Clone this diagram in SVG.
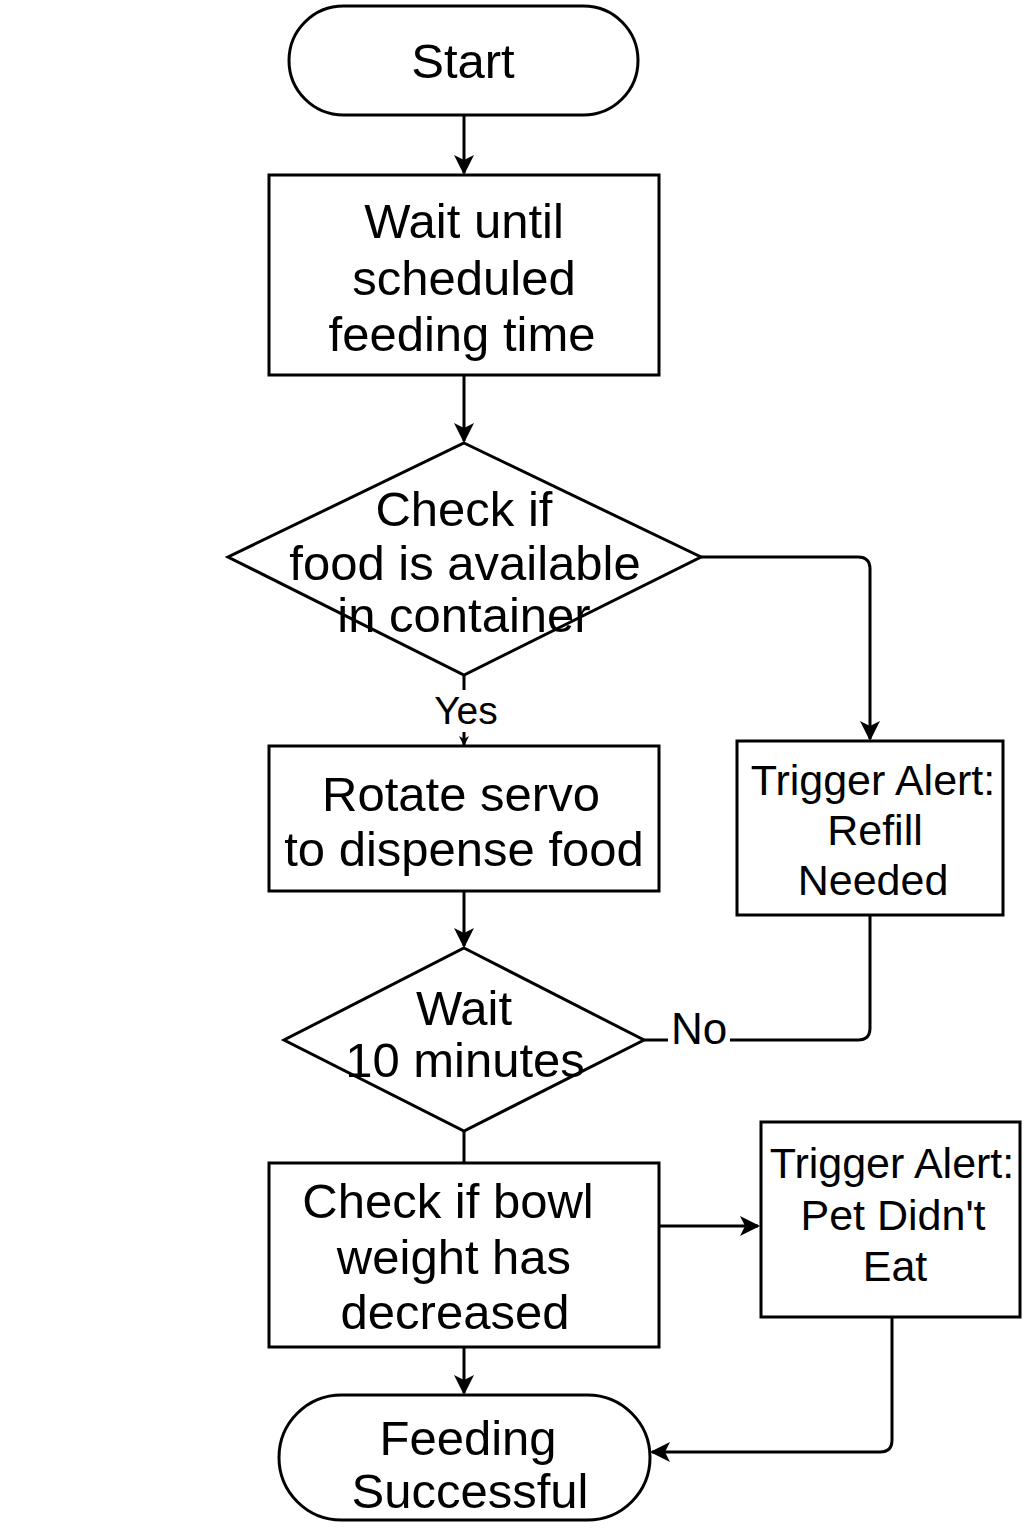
<svg xmlns="http://www.w3.org/2000/svg" width="1024" height="1536" viewBox="0 0 1024 1536">
<defs>
<style>
.s{fill:#fff;stroke:#000;stroke-width:3}
.t{font-family:"Liberation Sans",Arial,sans-serif;font-size:49px;fill:#000;text-anchor:middle}
.a{font-family:"Liberation Sans",Arial,sans-serif;font-size:43px;fill:#000;text-anchor:middle}
.c{fill:none;stroke:#000;stroke-width:3}
</style>
<marker id="ah" markerWidth="10" markerHeight="10" refX="9" refY="5" orient="auto" markerUnits="userSpaceOnUse" viewBox="0 0 10 10">
<path d="M0,0 L10,5 L0,10 L3,5 Z" fill="#000"/>
</marker>
<marker id="ah2" markerWidth="20" markerHeight="20" refX="18" refY="10" orient="auto" markerUnits="userSpaceOnUse" viewBox="0 0 20 20">
<path d="M0,0 L20,10 L0,20 L5,10 Z" fill="#000"/>
</marker>
</defs>
<rect width="1024" height="1536" fill="#fff"/>
<g id="connectors">
<line class="c" x1="464" y1="115" x2="464" y2="173" marker-end="url(#ah2)"/>
<line class="c" x1="464" y1="375" x2="464" y2="441" marker-end="url(#ah2)"/>
<line class="c" x1="464" y1="675" x2="464" y2="690"/>
<line class="c" x1="464" y1="732" x2="464" y2="745" marker-end="url(#ah)"/>
<line class="c" x1="464" y1="891" x2="464" y2="946" marker-end="url(#ah2)"/>
<line class="c" x1="464" y1="1131" x2="464" y2="1163"/>
<line class="c" x1="464" y1="1347" x2="464" y2="1393" marker-end="url(#ah2)"/>
<path class="c" d="M701,557 H858 Q870,557 870,569 V739" marker-end="url(#ah2)"/>
<path class="c" d="M870,916 V1028 Q870,1040 858,1040 H730"/>
<line class="c" x1="668" y1="1040" x2="644" y2="1040"/>
<line class="c" x1="659" y1="1226" x2="758" y2="1226" marker-end="url(#ah2)"/>
<path class="c" d="M892,1317 V1440 Q892,1452 880,1452 H652" marker-end="url(#ah2)"/>
<text class="a" x="466" y="724" style="font-size:39px">Yes</text>
<text class="a" x="699" y="1044" style="font-size:44px">No</text>
</g>
<g id="start">
<rect class="s" x="289" y="6" width="349" height="109" rx="54.5"/>
<text class="t" x="463" y="78">Start</text>
</g>
<g id="wait-schedule">
<rect class="s" x="269" y="175" width="390" height="200"/>
<text class="t" x="464" y="238">Wait until</text>
<text class="t" x="464" y="295">scheduled</text>
<text class="t" x="462" y="351">feeding time</text>
</g>
<g id="check-food">
<polygon class="s" points="464,443 701,557 464,675 228,557"/>
<text class="t" x="464" y="526">Check if</text>
<text class="t" x="465" y="580">food is available</text>
<text class="t" x="464" y="632">in container</text>
</g>
<g id="rotate-servo">
<rect class="s" x="269" y="746" width="390" height="145"/>
<text class="t" x="461" y="811">Rotate servo</text>
<text class="t" x="464" y="866">to dispense food</text>
</g>
<g id="alert-refill">
<rect class="s" x="737" y="741" width="266" height="174"/>
<text class="a" x="873" y="795">Trigger Alert:</text>
<text class="a" x="875" y="845">Refill</text>
<text class="a" x="873" y="895">Needed</text>
</g>
<g id="wait-10">
<polygon class="s" points="464,948 644,1040 464,1131 284,1040"/>
<text class="t" x="464" y="1025">Wait</text>
<text class="t" x="465" y="1077">10 minutes</text>
</g>
<g id="check-bowl">
<rect class="s" x="269" y="1163" width="390" height="184"/>
<text class="t" x="448" y="1218">Check if bowl</text>
<text class="t" x="454" y="1274">weight has</text>
<text class="t" x="455" y="1329">decreased</text>
</g>
<g id="alert-pet">
<rect class="s" x="761" y="1122" width="259" height="195"/>
<text class="a" x="892" y="1178">Trigger Alert:</text>
<text class="a" x="893" y="1230">Pet Didn't</text>
<text class="a" x="895" y="1281">Eat</text>
</g>
<g id="feeding-successful">
<rect class="s" x="279" y="1395" width="371" height="125" rx="62.5"/>
<text class="t" x="468" y="1455">Feeding</text>
<text class="t" x="470" y="1508">Successful</text>
</g>
</svg>
